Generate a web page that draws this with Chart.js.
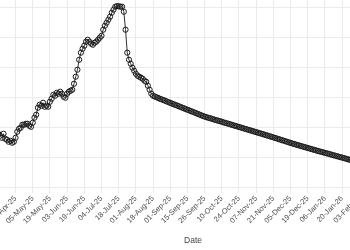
<!DOCTYPE html>
<html>
<head>
<meta charset="utf-8">
<script src="https://cdn.jsdelivr.net/npm/chart.js@4"></script>
<style>
  html, body { margin: 0; padding: 0; background: #ffffff; }
  #wrap { position: relative; width: 350px; height: 250px; overflow: hidden; background: #ffffff; }
  #c { position: absolute; left: 0; top: 0; }
</style>
</head>
<body>
<div id="wrap"><canvas id="c"></canvas></div>
<script>
// ---- data (one value per trading day; x = day index) ----
const tickIndex = [10, 20, 30, 40, 50, 60, 70, 80, 90, 100, 110, 120, 130, 140, 150, 160, 170, 180, 190, 200, 210];
const tickLabels = ['21-Apr-25', '05-May-25', '19-May-25', '03-Jun-25', '19-Jun-25', '04-Jul-25', '18-Jul-25',
  '01-Aug-25', '18-Aug-25', '01-Sep-25', '15-Sep-25', '26-Sep-25', '10-Oct-25', '24-Oct-25', '07-Nov-25',
  '21-Nov-25', '05-Dec-25', '19-Dec-25', '06-Jan-26', '20-Jan-26', '03-Feb-26'];
const yTicks = [0, 10, 20, 30, 40, 50, 60];

const observed = [
  17.77, 17.10, 16.43, 17.77, 16.10, 15.77, 15.10, 15.43, 14.77, 15.10,
  16.43, 18.43, 19.43, 19.77, 20.77, 20.77, 21.10, 21.10, 20.43, 20.10,
  21.43, 23.10, 24.10, 26.43, 27.43, 27.10, 28.10, 26.77, 27.10, 26.77,
  28.43, 29.43, 30.77, 30.43, 31.43, 31.10, 31.77, 31.10, 30.10, 29.77,
  31.10, 31.77, 32.10, 32.43, 34.43, 36.77, 39.10, 42.43, 44.77, 46.10,
  47.10, 48.43, 49.10, 48.43, 47.77, 47.43, 48.10, 48.43, 49.10, 49.77,
  50.43, 52.43, 53.77, 54.77, 55.77, 56.77, 58.10, 59.10, 60.10, 60.27,
  60.27, 60.10, 60.10, 58.43, 52.43, 44.77, 42.43, 41.10, 39.77, 38.77,
  37.77, 37.10, 36.77, 36.43, 36.10, 35.43, 35.10, 33.77, 32.43, 31.10,
  30.43
];
const projected = [
  30.20, 29.93, 29.70, 29.43, 29.23, 29.00, 28.77, 28.53, 28.30,
  28.07, 27.83, 27.60, 27.37, 27.17, 26.93, 26.70, 26.47, 26.23, 26.00,
  25.77, 25.57, 25.30, 25.10, 24.87, 24.63, 24.40, 24.17, 23.93, 23.70,
  23.50, 23.30, 23.13, 22.97, 22.80, 22.60, 22.43, 22.27, 22.10, 21.93,
  21.77, 21.57, 21.40, 21.23, 21.07, 20.90, 20.73, 20.53, 20.37, 20.20,
  20.03, 19.87, 19.70, 19.50, 19.33, 19.17, 19.00, 18.83, 18.67, 18.47,
  18.30, 18.13, 17.97, 17.80, 17.63, 17.43, 17.27, 17.10, 16.90, 16.73,
  16.57, 16.37, 16.20, 16.00, 15.83, 15.63, 15.47, 15.27, 15.10, 14.90,
  14.73, 14.53, 14.37, 14.20, 14.03, 13.87, 13.70, 13.53, 13.37, 13.20,
  13.03, 12.87, 12.70, 12.53, 12.37, 12.20, 12.03, 11.87, 11.73, 11.57,
  11.40, 11.27, 11.10, 10.93, 10.77, 10.60, 10.47, 10.30, 10.13, 9.97,
  9.83, 9.67, 9.50, 9.33, 9.17, 9.03, 8.87
];
const values = observed.concat(projected);

// ---- layout targets (page pixels of the plot panel) ----
const panel = { left: -36, right: 422, top: -2, bottom: 187 };
const xRange = { min: -20, max: 246.5 };
const yRange = { min: 0, max: 63 };

function makeConfig() {
  return {
    type: 'line',
    data: {
      datasets: [{
        data: values.map((v, i) => ({ x: i, y: v })),
        borderColor: '#1a1a1a',
        borderWidth: 0.9,
        pointRadius: 2.6,
        pointBorderWidth: 1,
        pointBorderColor: '#1a1a1a',
        pointBackgroundColor: 'rgba(0,0,0,0)',
        tension: 0,
        fill: false
      }]
    },
    options: {
      responsive: false,
      maintainAspectRatio: false,
      animation: false,
      devicePixelRatio: 1,
      layout: { padding: 0 },
      plugins: { legend: { display: false }, tooltip: { enabled: false } },
      scales: {
        x: {
          type: 'linear',
          min: xRange.min,
          max: xRange.max,
          afterBuildTicks: (s) => { s.ticks = tickIndex.map(v => ({ value: v })); },
          ticks: {
            autoSkip: false,
            minRotation: 45,
            maxRotation: 45,
            padding: 1,
            color: '#4d4d4d',
            font: { family: 'Liberation Sans', size: 7.5 },
            callback: (v) => { const k = tickIndex.indexOf(v); return k >= 0 ? tickLabels[k] : ''; }
          },
          grid: { color: '#ebebeb', lineWidth: 1, drawTicks: true, tickLength: 6 },
          border: { display: false },
          title: {
            display: true, text: 'Date', color: '#444444',
            font: { family: 'Liberation Sans', size: 8.5 },
            padding: { top: 9, bottom: 2 }
          }
        },
        y: {
          min: yRange.min,
          max: yRange.max,
          afterBuildTicks: (s) => { s.ticks = yTicks.map(v => ({ value: v })); },
          ticks: { display: false },
          grid: { color: '#ebebeb', lineWidth: 1, drawTicks: false },
          border: { display: false }
        }
      }
    }
  };
}

const canvas = document.getElementById('c');
let W = 470, H = 260;
function build() {
  canvas.width = W; canvas.height = H;
  canvas.style.width = W + 'px'; canvas.style.height = H + 'px';
  return new Chart(canvas, makeConfig());
}
let chart = build();
let ca = chart.chartArea;
W += Math.round((panel.right - panel.left) - (ca.right - ca.left));
H += Math.round((panel.bottom - panel.top) - (ca.bottom - ca.top));
chart.destroy();
chart = build();
ca = chart.chartArea;
canvas.style.left = Math.round(panel.left - ca.left) + 'px';
canvas.style.top = Math.round(panel.top - ca.top) + 'px';
</script>
</body>
</html>
